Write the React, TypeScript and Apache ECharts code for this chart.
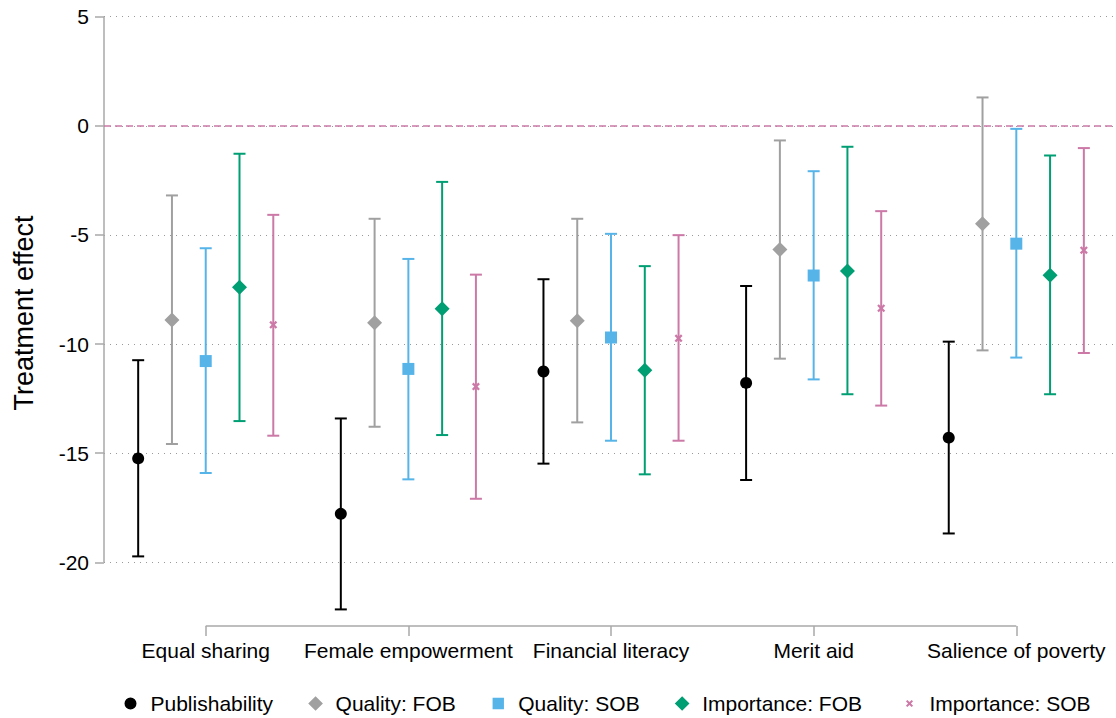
import React, { useEffect, useRef } from "react";
import * as echarts from "echarts";

const categories = ["Equal sharing", "Female empowerment", "Financial literacy", "Merit aid", "Salience of poverty"];
const seriesNames = ["Publishability", "Quality: FOB", "Quality: SOB", "Importance: FOB", "Importance: SOB"];

const publishability = [-15.24, -17.78, -11.26, -11.78, -14.29];
const publishabilityLo = [-19.73, -22.16, -15.48, -16.23, -18.68];
const publishabilityHi = [-10.74, -13.41, -7.03, -7.34, -9.89];

const qualityFob = [-8.9, -9.02, -8.93, -5.67, -4.49];
const qualityFobLo = [-14.58, -13.79, -13.59, -10.67, -10.29];
const qualityFobHi = [-3.19, -4.26, -4.26, -0.67, 1.3];

const qualitySob = [-10.78, -11.14, -9.7, -6.86, -5.4];
const qualitySobLo = [-15.91, -16.2, -14.43, -11.62, -10.62];
const qualitySobHi = [-5.61, -6.1, -4.95, -2.08, -0.14];

const importanceFob = [-7.4, -8.38, -11.2, -6.65, -6.85];
const importanceFobLo = [-13.53, -14.17, -15.97, -12.3, -12.3];
const importanceFobHi = [-1.28, -2.57, -6.43, -0.96, -1.36];

const importanceSob = [-9.12, -11.95, -9.74, -8.36, -5.7];
const importanceSobLo = [-14.2, -17.09, -14.43, -12.82, -10.41];
const importanceSobHi = [-4.08, -6.82, -5.01, -3.91, -1.02];

const yTicks = [-20, -15, -10, -5, 0, 5];
const xTicks = [1, 2, 3, 4, 5];

const FONT = "'Liberation Sans', Arial, sans-serif";
const AXIS_GRAY = "#a8a8a8";
const colors = ["#000000", "#a0a0a0", "#56b4e9", "#009e73", "#cc79a7"];
const X_PATH = "path://M2,0 L5,3 L8,0 L10,2 L7,5 L10,8 L8,10 L5,7 L2,10 L0,8 L3,5 L0,2 Z";
const symbols = ["circle", "diamond", "rect", "diamond", X_PATH];
const symbolSizes = [12, 15, 12, 15, 8];
const offsets = [-1 / 3, -1 / 6, 0, 1 / 6, 1 / 3];

// legend icons (invisible corner points pad the icon to the wanted size)
const pad = (p: number, body: string) =>
  `path://M${-p},${-p} L${-p},${-p} Z M${10 + p},${10 + p} L${10 + p},${10 + p} Z ${body}`;
const legendIcons = [
  pad(1.25, "M0,5 A5,5 0 1,1 10,5 A5,5 0 1,1 0,5 Z"),
  pad(0.1, "M5,0 L10,5 L5,10 L0,5 Z"),
  pad(1.6, "M0,0 L10,0 L10,10 L0,10 Z"),
  pad(0.1, "M5,0 L10,5 L5,10 L0,5 Z"),
  pad(5.5, "M2,0 L5,3 L8,0 L10,2 L7,5 L10,8 L8,10 L5,7 L2,10 L0,8 L3,5 L0,2 Z"),
];

const points = [publishability, qualityFob, qualitySob, importanceFob, importanceSob];
const lows = [publishabilityLo, qualityFobLo, qualitySobLo, importanceFobLo, importanceSobLo];
const highs = [publishabilityHi, qualityFobHi, qualitySobHi, importanceFobHi, importanceSobHi];

const xMin = 0.498;
const xMax = 5.492;
const yMin = -22.92;
const yMax = 5;

export default function App() {
  const ref = useRef<HTMLDivElement>(null);

  useEffect(() => {
    document.body.style.margin = "0";
    if (!ref.current) return;
    const chart = echarts.init(ref.current, undefined, { renderer: "svg" });

    const errorSeries = points.map((_, s) => ({
      type: "custom",
      z: 3,
      silent: true,
      clip: false,
      encode: { x: 0, y: [1, 2] },
      data: categories.map((_, i) => [i + 1 + offsets[s], lows[s][i], highs[s][i]]),
      renderItem: (params: any, api: any) => {
        const x = api.value(0);
        const lo = api.coord([x, api.value(1)]);
        const hi = api.coord([x, api.value(2)]);
        const hw = 6;
        const style = { stroke: colors[s], lineWidth: 2 };
        return {
          type: "group",
          children: [
            { type: "line", shape: { x1: lo[0], y1: lo[1], x2: hi[0], y2: hi[1] }, style },
            { type: "line", shape: { x1: hi[0] - hw, y1: hi[1], x2: hi[0] + hw, y2: hi[1] }, style },
            { type: "line", shape: { x1: lo[0] - hw, y1: lo[1], x2: lo[0] + hw, y2: lo[1] }, style },
          ],
        };
      },
    }));

    const pointSeries = points.map((vals, s) => ({
      type: "scatter",
      name: seriesNames[s],
      z: 5,
      symbol: symbols[s],
      symbolSize: symbolSizes[s],
      itemStyle: { color: colors[s], opacity: 1 },
      data: vals.map((v, i) => [i + 1 + offsets[s], v]),
    }));

    const legendBase = {
      top: 688,
      itemWidth: 30,
      itemHeight: 15,
      itemGap: 35,
      selectedMode: false,
      symbolKeepAspect: true,
      textStyle: { fontSize: 21, color: "#000", fontFamily: FONT },
    };
    const legendItem = (i: number) => ({ name: seriesNames[i], icon: legendIcons[i], itemStyle: { color: colors[i] } });

    chart.setOption({
      animation: false,
      textStyle: { fontFamily: FONT },
      grid: { left: 104, right: 0, top: 16.7, bottom: 92, containLabel: false },
      legend: [
        { ...legendBase, left: 118, data: [0, 1, 2, 3].map(legendItem) },
        { ...legendBase, left: 897, data: [4].map(legendItem) },
      ],
      graphic: [
        {
          type: "text",
          x: 23.5,
          y: 313,
          rotation: Math.PI / 2,
          style: {
            text: "Treatment effect",
            fontSize: 27,
            fontFamily: FONT,
            fill: "#000",
            align: "center",
            verticalAlign: "middle",
          },
        },
      ],
      xAxis: {
        type: "value",
        min: xMin,
        max: xMax,
        axisLine: { show: false, onZero: false },
        splitLine: { show: false },
        axisTick: { show: true, customValues: xTicks, length: 10, lineStyle: { color: AXIS_GRAY, width: 1.5 } },
        axisLabel: {
          customValues: xTicks,
          fontSize: 21,
          color: "#000",
          fontFamily: FONT,
          margin: 14,
          formatter: (v: number) => categories[Math.round(v) - 1] ?? "",
        },
      },
      yAxis: {
        type: "value",
        min: yMin,
        max: yMax,
        axisLine: { show: false, onZero: false },
        axisTick: { show: true, customValues: yTicks, length: 9, lineStyle: { color: AXIS_GRAY, width: 1.5 } },
        axisLabel: { customValues: yTicks, fontSize: 21, color: "#000", fontFamily: FONT, margin: 15 },
        splitLine: { show: true, lineStyle: { color: "#9a9a9a", width: 1, type: [1, 5] } },
      },
      series: [
        {
          type: "line",
          silent: true,
          clip: false,
          symbol: "none",
          z: 2,
          lineStyle: { color: AXIS_GRAY, width: 1.5 },
          data: [
            [xMin, yMax],
            [xMin, -20],
          ],
        },
        {
          type: "line",
          silent: true,
          clip: false,
          symbol: "none",
          z: 2,
          lineStyle: { color: AXIS_GRAY, width: 1.5 },
          data: [
            [1, yMin],
            [5, yMin],
          ],
          markLine: {
            silent: true,
            symbol: ["none", "none"],
            label: { show: false },
            lineStyle: { color: "#cc79a7", width: 1.5, type: [7, 4] },
            data: [{ yAxis: 0 }],
          },
        },
        ...errorSeries,
        ...pointSeries,
      ],
    });

    return () => chart.dispose();
  }, []);

  return <div ref={ref} style={{ width: 1116, height: 718 }} />;
}
